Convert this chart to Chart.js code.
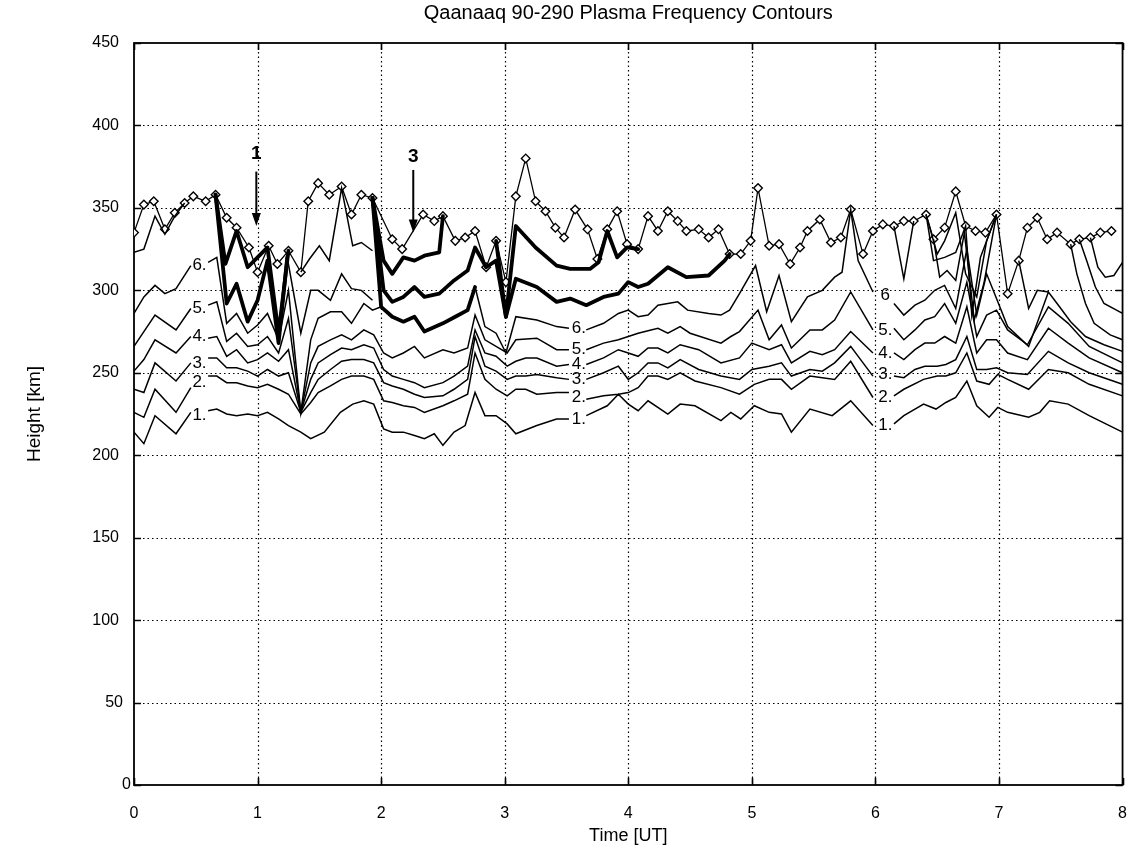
<!DOCTYPE html>
<html>
<head>
<meta charset="utf-8">
<script src="https://cdn.jsdelivr.net/npm/chart.js@4.4.1/dist/chart.umd.min.js"></script>
<style>html,body{margin:0;padding:0;background:#fff}</style>
</head>
<body>
<canvas id="chart" width="1138" height="852"></canvas>
<script>
// [time UT, height km]; [t, null] breaks a line where a contour label sits
const peak = [
  [0.00,335],[0.08,352],[0.16,354],[0.25,337],[0.33,347],[0.41,353],[0.48,357],[0.58,354],[0.66,358],[0.75,344],
  [0.83,338],[0.93,326],[1.00,311],[1.09,327],[1.16,316],[1.25,324],[1.35,311],[1.41,354],[1.49,365],[1.58,358],
  [1.68,363],[1.76,346],[1.84,358],[1.93,356],[2.09,331],[2.17,325],[2.34,346],[2.43,342],[2.50,345],[2.60,330],
  [2.68,332],[2.76,336],[2.85,314],[2.93,330],[3.01,305],[3.09,357],[3.17,380],[3.25,354],[3.33,348],[3.41,338],
  [3.48,332],[3.57,349],[3.67,337],[3.75,319],[3.83,337],[3.91,348],[3.99,328],[4.08,325],[4.16,345],[4.24,336],
  [4.32,348],[4.40,342],[4.47,336],[4.57,337],[4.65,332],[4.73,337],[4.82,322],[4.91,322],[4.99,330],[5.05,362],
  [5.14,327],[5.22,328],[5.31,316],[5.39,326],[5.45,336],[5.55,343],[5.64,329],[5.72,332],[5.80,349],[5.90,322],
  [5.98,336],[6.06,340],[6.15,339],[6.23,342],[6.31,342],[6.41,346],[6.47,331],[6.56,338],[6.65,360],[6.73,339],
  [6.81,336],[6.89,335],[6.98,346],[7.07,298],[7.16,318],[7.23,338],[7.31,344],[7.39,331],[7.47,335],[7.58,328],
  [7.65,331],[7.74,332],[7.82,335],[7.91,336]
];

const c1 = [
  [0,214],[0.08,207],[0.17,224],[0.34,213],[0.46,226],[0.53,null],[0.6,227],[0.67,228],[0.75,225],[0.83,224],
  [0.92,225],[1.0,224],[1.08,226],[1.17,222],[1.25,218],[1.35,214],[1.43,210],[1.54,214],[1.67,226],[1.77,231],
  [1.86,233],[1.94,231],[2.02,216],[2.09,214],[2.18,214],[2.27,212],[2.35,210],[2.43,213],[2.5,206],[2.59,214],
  [2.68,218],[2.76,238],[2.84,224],[2.93,224],[3.02,219],[3.09,213],[3.26,218],[3.34,220],[3.42,222],[3.52,222],
  [3.6,null],[3.66,224],[3.83,230],[3.92,237],[4.0,231],[4.08,227],[4.16,233],[4.32,225],[4.42,231],[4.54,230],
  [4.75,221],[4.83,226],[4.91,222],[5.02,230],[5.14,226],[5.24,225],[5.32,214],[5.47,228],[5.65,224],[5.8,233],
  [5.98,218],[6.07,null],[6.15,219],[6.23,224],[6.39,231],[6.49,228],[6.57,232],[6.65,235],[6.74,245],[6.82,230],
  [6.92,223],[6.99,229],[7.07,226],[7.24,223],[7.33,226],[7.41,233],[7.56,231],[7.73,224],[8.0,214]
];
const c2 = [
  [0,226],[0.08,223],[0.17,240],[0.34,226],[0.46,241],[0.53,null],[0.6,248],[0.67,248],[0.75,244],[0.83,244],
  [0.92,242],[1.0,241],[1.08,243],[1.17,240],[1.25,237],[1.35,225],[1.43,232],[1.49,238],[1.59,242],[1.68,246],
  [1.76,248],[1.86,248],[1.94,246],[2.02,233],[2.09,232],[2.18,230],[2.27,229],[2.35,226],[2.5,230],[2.59,233],
  [2.7,237],[2.76,262],[2.84,246],[2.93,240],[3.02,236],[3.09,240],[3.17,240],[3.26,237],[3.42,238],[3.52,238],
  [3.6,null],[3.66,234],[3.8,236],[3.92,237],[4.0,238],[4.08,241],[4.16,248],[4.24,248],[4.32,246],[4.42,250],
  [4.54,245],[4.75,241],[4.9,237],[5.02,243],[5.14,246],[5.24,246],[5.32,240],[5.47,248],[5.57,247],[5.67,246],
  [5.8,257],[5.98,235],[6.07,null],[6.15,236],[6.23,240],[6.39,246],[6.5,248],[6.57,248],[6.65,250],[6.74,262],
  [6.82,245],[6.92,243],[6.99,249],[7.07,246],[7.24,240],[7.4,252],[7.56,250],[7.73,243],[8.0,236]
];
const c3 = [
  [0,240],[0.08,238],[0.17,256],[0.34,245],[0.46,256],[0.53,null],[0.6,259],[0.67,259],[0.75,253],[0.83,253],
  [0.92,251],[1.0,248],[1.08,252],[1.17,248],[1.25,250],[1.35,226],[1.43,238],[1.49,246],[1.59,252],[1.68,257],
  [1.76,258],[1.86,258],[1.94,256],[2.02,244],[2.09,242],[2.18,240],[2.27,237],[2.35,235],[2.5,236],[2.59,240],
  [2.7,246],[2.76,272],[2.84,254],[2.93,251],[3.02,246],[3.09,248],[3.17,248],[3.26,249],[3.42,247],[3.52,246],
  [3.6,null],[3.66,246],[3.8,250],[3.92,254],[4.0,246],[4.08,250],[4.16,256],[4.24,256],[4.32,253],[4.42,258],
  [4.57,252],[4.75,248],[4.9,246],[5.0,252],[5.14,254],[5.24,256],[5.32,248],[5.47,252],[5.57,251],[5.67,256],
  [5.8,266],[5.98,248],[6.07,null],[6.15,248],[6.23,247],[6.32,252],[6.4,254],[6.5,254],[6.57,255],[6.65,258],
  [6.74,272],[6.82,252],[6.9,252],[6.98,253],[7.07,250],[7.23,249],[7.4,263],[7.56,256],[7.73,250],[8.0,243]
];
const c4 = [
  [0,251],[0.08,258],[0.17,270],[0.34,262],[0.46,272],[0.53,null],[0.6,271],[0.67,272],[0.75,260],[0.83,264],
  [0.92,256],[1.0,258],[1.08,262],[1.17,257],[1.25,264],[1.35,226],[1.43,246],[1.49,256],[1.59,261],[1.68,265],
  [1.76,264],[1.86,267],[1.94,265],[2.02,252],[2.09,248],[2.18,246],[2.27,244],[2.35,241],[2.5,244],[2.59,248],
  [2.7,254],[2.76,276],[2.84,262],[2.93,260],[3.02,254],[3.09,257],[3.17,259],[3.26,259],[3.42,254],[3.52,255],
  [3.6,null],[3.66,255],[3.8,259],[3.92,264],[4.0,262],[4.08,260],[4.16,265],[4.24,265],[4.32,262],[4.42,267],
  [4.57,264],[4.75,256],[4.9,259],[5.0,268],[5.14,264],[5.24,267],[5.32,256],[5.47,263],[5.57,261],[5.67,264],
  [5.8,275],[5.98,262],[6.07,null],[6.15,262],[6.23,258],[6.32,264],[6.4,268],[6.48,268],[6.56,272],[6.65,268],
  [6.74,290],[6.82,262],[6.9,270],[6.98,270],[7.07,262],[7.23,258],[7.4,277],[7.56,268],[7.73,259],[8.0,250]
];
const c5 = [
  [0,266],[0.08,275],[0.17,285],[0.34,276],[0.46,289],[0.53,null],[0.6,291],[0.67,293],[0.75,269],[0.83,274],
  [0.92,266],[1.0,267],[1.08,272],[1.17,262],[1.25,283],[1.35,226],[1.43,256],[1.49,266],[1.59,270],[1.68,273],
  [1.76,270],[1.86,276],[1.94,273],[2.02,262],[2.09,259],[2.18,262],[2.27,266],[2.35,259],[2.5,264],[2.59,262],
  [2.7,265],[2.76,285],[2.84,270],[2.93,266],[3.02,262],[3.09,270],[3.26,271],[3.42,264],[3.52,264],[3.6,null],
  [3.66,264],[3.8,268],[3.92,270],[4.0,272],[4.08,274],[4.24,277],[4.32,274],[4.42,278],[4.5,274],[4.75,268],
  [4.83,272],[4.9,275],[5.05,288],[5.14,270],[5.24,279],[5.32,265],[5.47,276],[5.57,276],[5.67,282],[5.8,299],
  [5.98,276],[6.07,null],[6.15,277],[6.23,270],[6.32,276],[6.4,282],[6.48,284],[6.56,292],[6.65,280],[6.74,305],
  [6.82,272],[6.9,285],[6.98,288],[7.07,276],[7.23,267],[7.4,290],[7.56,280],[7.73,266],[8.0,256]
];
const c6 = [
  [0,286],[0.08,296],[0.17,303],[0.25,298],[0.34,301],[0.46,315],[0.53,null],[0.6,317],[0.67,320],[0.75,280],
  [0.83,286],[0.92,274],[1.0,279],[1.08,286],[1.17,270],[1.25,300],[1.35,226],[1.43,270],[1.49,283],[1.59,287],
  [1.68,287],[1.76,280],[1.86,292],[1.93,288],[2.0,290],[2.2,null],[2.76,302],[2.84,278],[2.93,274],[3.01,262],
  [3.09,284],[3.26,282],[3.42,278],[3.52,277],[3.6,null],[3.66,276],[3.8,280],[3.92,286],[4.0,288],[4.08,284],
  [4.16,285],[4.24,291],[4.4,293],[4.48,288],[4.65,286],[4.75,285],[4.82,288],[4.9,298],[5.03,315],[5.12,287],
  [5.22,309],[5.32,281],[5.45,296],[5.57,300],[5.67,308],[5.73,311],[5.8,349],[5.86,318],[5.98,299],[6.07,null],
  [6.15,292],[6.23,285],[6.32,291],[6.4,294],[6.48,300],[6.56,303],[6.65,289],[6.74,325],[6.82,285],[6.9,310],
  [6.98,295],[7.07,278],[7.24,266],[7.4,299],[7.49,290],[7.58,281],[7.7,272],[7.85,267],[8.0,263]
];

// thin contours above 6 where they appear
const upperThin = [
  [[0,323],[0.08,325],[0.17,345],[0.25,334],[0.33,345],[0.41,353]],
  [[1.24,320],[1.35,274],[1.43,300],[1.49,300],[1.59,294],[1.68,310],[1.76,301],[1.84,300],[1.93,294]],
  [[1.35,311],[1.42,319],[1.5,327],[1.58,318],[1.68,362],[1.77,327],[1.84,329],[1.93,324]],
  [[6.15,339],[6.23,307],[6.31,342]],
  [[6.41,346],[6.5,322],[6.56,330],[6.65,347],[6.73,310],[6.82,296],[6.9,330],[6.98,346]],
  [[6.41,346],[6.47,318],[6.56,320],[6.65,323],[6.73,339],[6.78,285],[6.85,320],[6.98,346]],
  [[6.47,331],[6.52,308],[6.58,312],[6.65,306],[6.72,335],[6.8,282],[6.88,305],[6.98,346]],
  [[7.16,318],[7.24,289],[7.31,300],[7.4,299]],
  [[7.74,332],[7.8,314],[7.86,308],[7.93,309],[8.0,317]],
  [[7.65,331],[7.71,318],[7.78,302],[7.85,292],[8.0,286]],
  [[7.58,328],[7.63,310],[7.7,292],[7.77,280],[7.9,273],[8.0,270]]
];

// heavy traced contours
const boldLines = [
  [[0.66,358],[0.74,316],[0.83,336],[0.92,314],[1.0,320],[1.08,326],[1.17,274],[1.25,324]],
  [[0.66,358],[0.75,292],[0.83,304],[0.92,281],[1.0,294],[1.08,318],[1.17,268],[1.24,320]],
  [[1.93,356],[2.02,318],[2.09,310],[2.18,320],[2.27,318],[2.35,321],[2.47,323],[2.5,345]],
  [[1.93,356],[2.02,300],[2.09,293],[2.18,296],[2.27,302],[2.35,296],[2.47,298],[2.59,306],[2.7,312],
   [2.76,326],[2.85,314],[2.93,318],[3.01,284],[3.09,307],[3.26,302],[3.42,293],[3.53,295],[3.66,291],
   [3.8,296],[3.92,298],[4.0,305],[4.08,302],[4.16,304],[4.32,314],[4.47,308],[4.65,309],[4.78,318],[4.82,322]],
  [[1.93,356],[2.0,290],[2.09,284],[2.18,281],[2.27,284],[2.35,275],[2.5,280],[2.6,284],[2.7,288],[2.76,302]],
  [[2.93,330],[3.01,284],[3.09,339],[3.25,326],[3.42,315],[3.53,313],[3.69,313],[3.76,317],[3.83,336],
   [3.91,320],[3.99,326],[4.08,325]]
];

const contourNames = ['1.', '2.', '3.', '4.', '5.', '6.'];
const labelTimes = [0.53, 3.6, 6.08];
const labelHeights = [
  [224, 244, 256, 272, 289, 315],
  [222, 235, 246, 255, 264, 277],
  [218, 235, 249, 262, 276, 297]
];
// hand-marked events: [text, time, text height, arrow start, arrow tip]
const events = [['1', 0.99, 383, 372, 339], ['3', 2.26, 381, 373, 335]];

const xTicks = [0, 1, 2, 3, 4, 5, 6, 7, 8];
const yTicks = [0, 50, 100, 150, 200, 250, 300, 350, 400, 450];

const toXY = arr => arr.map(p => ({x: p[0], y: p[1]}));

const datasets = [];
[c1, c2, c3, c4, c5, c6].concat(upperThin).forEach(d => datasets.push({
  data: toXY(d), borderColor: '#000', borderWidth: 1.5, pointRadius: 0, tension: 0
}));
boldLines.forEach(d => datasets.push({
  data: toXY(d), borderColor: '#000', borderWidth: 3.8, pointRadius: 0, tension: 0,
  borderJoinStyle: 'round', borderCapStyle: 'round'
}));
datasets.push({
  data: toXY(peak), borderColor: '#000', borderWidth: 1.3, tension: 0,
  pointStyle: 'rectRot', pointRadius: 4.3, pointBackgroundColor: '#fff',
  pointBorderColor: '#000', pointBorderWidth: 1.4
});

const FONT = '"Liberation Sans", Arial, Helvetica, sans-serif';

const frame = {
  id: 'frame',
  beforeDatasetsDraw(chart) {
    const {ctx, chartArea: a, scales: {x, y}} = chart;
    ctx.save();
    ctx.strokeStyle = '#000';
    ctx.lineWidth = 1.2;
    ctx.setLineDash([1.5, 3]);
    xTicks.slice(1, -1).forEach(t => {
      const px = Math.round(x.getPixelForValue(t)) + 0.5;
      ctx.beginPath(); ctx.moveTo(px, a.top); ctx.lineTo(px, a.bottom); ctx.stroke();
    });
    yTicks.slice(1, -1).forEach(v => {
      const py = Math.round(y.getPixelForValue(v)) + 0.5;
      ctx.beginPath(); ctx.moveTo(a.left, py); ctx.lineTo(a.right, py); ctx.stroke();
    });
    ctx.setLineDash([]);
    ctx.lineWidth = 1.6;
    xTicks.forEach(t => {
      const px = Math.round(x.getPixelForValue(t)) + 0.5;
      ctx.beginPath(); ctx.moveTo(px, a.bottom); ctx.lineTo(px, a.bottom - 7);
      ctx.moveTo(px, a.top); ctx.lineTo(px, a.top + 7); ctx.stroke();
    });
    yTicks.forEach(v => {
      const py = Math.round(y.getPixelForValue(v)) + 0.5;
      ctx.beginPath(); ctx.moveTo(a.left, py); ctx.lineTo(a.left + 7, py);
      ctx.moveTo(a.right, py); ctx.lineTo(a.right - 7, py); ctx.stroke();
    });
    ctx.lineWidth = 1.8;
    ctx.strokeRect(a.left, a.top, a.right - a.left, a.bottom - a.top);
    ctx.restore();
  },
  afterDraw(chart) {
    const {ctx, chartArea: a, scales: {x, y}} = chart;
    ctx.save();
    ctx.fillStyle = '#000';
    ctx.textBaseline = 'middle';

    // height tick labels sit closer to the axis the shorter they are
    ctx.textAlign = 'right';
    ctx.font = '16px ' + FONT;
    yTicks.forEach(v => {
      const s = String(v);
      const right = s.length === 1 ? 131 : s.length === 2 ? 123 : 119;
      ctx.fillText(s, right, y.getPixelForValue(v));
    });

    ctx.textAlign = 'center';
    ctx.font = '20px ' + FONT;
    ctx.fillText('Qaanaaq 90-290 Plasma Frequency Contours', (a.left + a.right) / 2, 13);
    ctx.font = '18px ' + FONT;
    ctx.fillText('Time [UT]', (a.left + a.right) / 2, 836);
    ctx.save();
    ctx.translate(35, (a.top + a.bottom) / 2);
    ctx.rotate(-Math.PI / 2);
    ctx.font = '19px ' + FONT;
    ctx.fillText('Height [km]', 0, 0);
    ctx.restore();

    // contour labels
    ctx.font = '17px ' + FONT;
    labelTimes.forEach((t, r) => {
      labelHeights[r].forEach((v, i) => {
        const txt = (r === 2 && i === 5) ? '6' : contourNames[i];
        ctx.fillText(txt, x.getPixelForValue(t), y.getPixelForValue(v));
      });
    });

    // event markers with arrows
    events.forEach(([txt, t, hv, v0, v1]) => {
      const px = x.getPixelForValue(t);
      ctx.font = 'bold 19px ' + FONT;
      ctx.fillText(txt, px, y.getPixelForValue(hv));
      const y0 = y.getPixelForValue(v0), y1 = y.getPixelForValue(v1);
      ctx.lineWidth = 2;
      ctx.beginPath(); ctx.moveTo(px, y0); ctx.lineTo(px, y1 - 8); ctx.stroke();
      ctx.beginPath(); ctx.moveTo(px - 4.5, y1 - 13); ctx.lineTo(px + 4.5, y1 - 13); ctx.lineTo(px, y1);
      ctx.closePath(); ctx.fill();
    });
    ctx.restore();
  }
};

new Chart(document.getElementById('chart'), {
  type: 'line',
  data: { datasets },
  options: {
    responsive: false,
    animation: false,
    events: [],
    layout: { padding: { left: 0, right: 0, top: 43, bottom: 0 } },
    plugins: { legend: { display: false }, tooltip: { enabled: false }, title: { display: false } },
    scales: {
      x: {
        type: 'linear', min: 0, max: 8,
        afterFit: s => { s.height = 67; },
        afterBuildTicks: s => { s.ticks = xTicks.map(v => ({value: v})); },
        grid: { display: false }, border: { display: false },
        ticks: { color: '#000', padding: 11, maxRotation: 0, font: { family: FONT, size: 16 } }
      },
      y: {
        type: 'linear', min: 0, max: 450,
        afterFit: s => { s.width = 134; },
        afterBuildTicks: s => { s.ticks = yTicks.map(v => ({value: v})); },
        grid: { display: false }, border: { display: false },
        ticks: { display: false }
      }
    }
  },
  plugins: [frame]
});
</script>
</body>
</html>
